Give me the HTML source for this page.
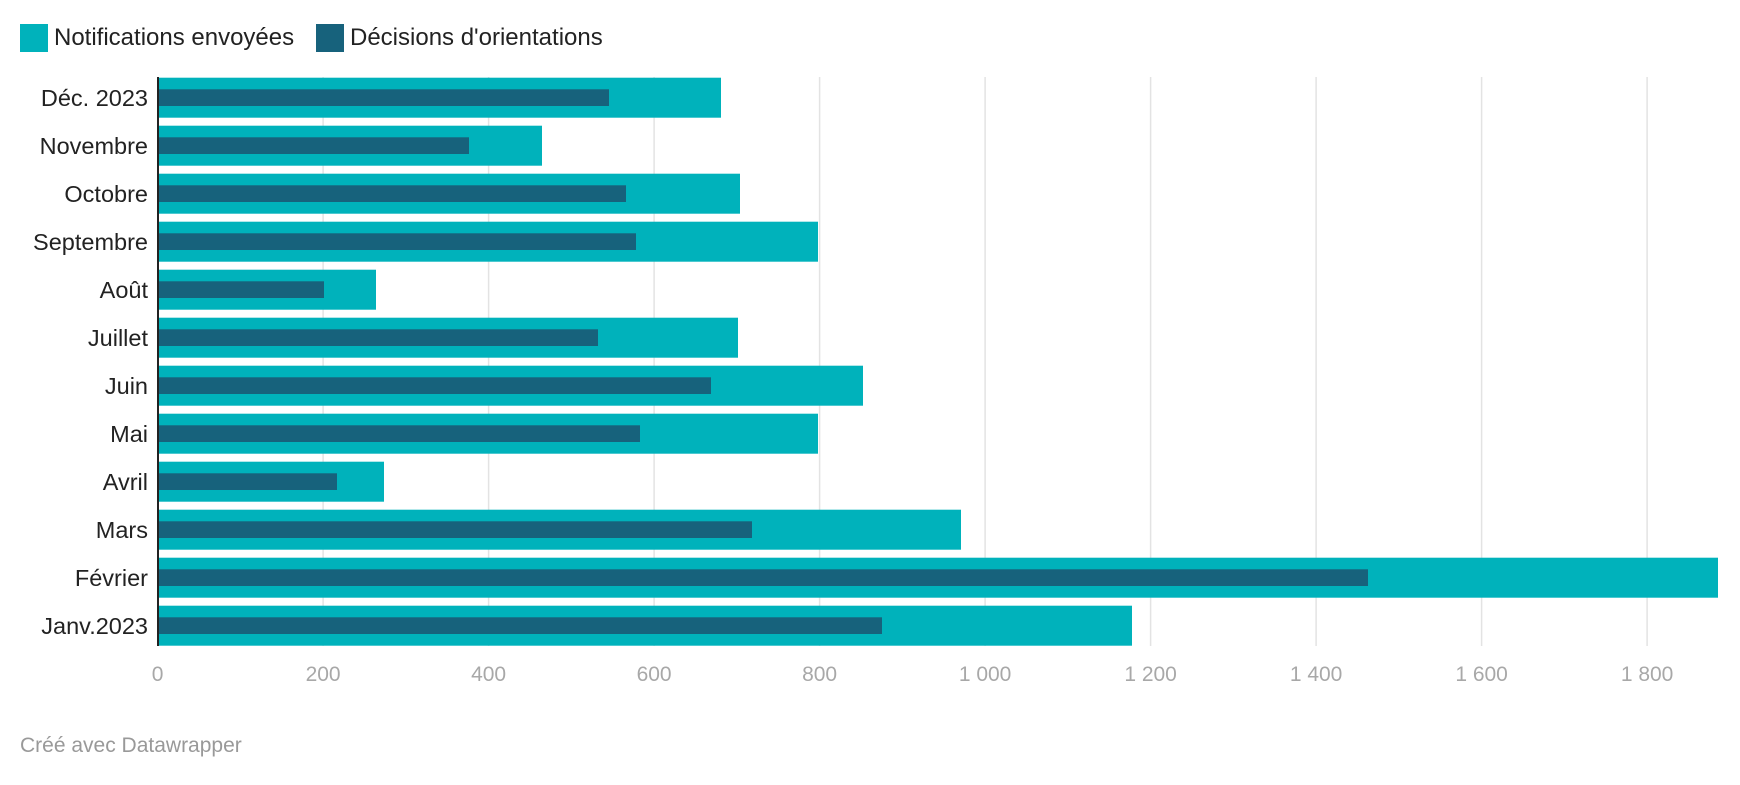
<!DOCTYPE html>
<html><head><meta charset="utf-8"><style>
body{margin:0;background:#fff;width:1740px;height:780px;overflow:hidden;font-family:"Liberation Sans",sans-serif}
</style></head><body>
<svg width="1740" height="780" xmlns="http://www.w3.org/2000/svg" font-family="Liberation Sans, sans-serif">
<rect x="20" y="24" width="28" height="28" fill="#00b2bb"/>
<text x="54" y="45" font-size="24" fill="#222">Notifications envoyées</text>
<rect x="316" y="24" width="28" height="28" fill="#17627c"/>
<text x="350" y="45" font-size="24" fill="#222">Décisions d'orientations</text>
<g stroke="#e3e3e3" stroke-width="1.5">
<line x1="323.1" y1="77" x2="323.1" y2="646"/><line x1="488.6" y1="77" x2="488.6" y2="646"/>
<line x1="654.1" y1="77" x2="654.1" y2="646"/><line x1="819.6" y1="77" x2="819.6" y2="646"/>
<line x1="985.1" y1="77" x2="985.1" y2="646"/><line x1="1150.6" y1="77" x2="1150.6" y2="646"/>
<line x1="1316.1" y1="77" x2="1316.1" y2="646"/><line x1="1481.6" y1="77" x2="1481.6" y2="646"/>
<line x1="1647.1" y1="77" x2="1647.1" y2="646"/>
</g>
<g fill="#00b2bb">
<rect x="158" y="77.7" width="563" height="40"/>
<rect x="158" y="125.7" width="384" height="40"/>
<rect x="158" y="173.7" width="582" height="40"/>
<rect x="158" y="221.7" width="660" height="40"/>
<rect x="158" y="269.7" width="218" height="40"/>
<rect x="158" y="317.7" width="580" height="40"/>
<rect x="158" y="365.7" width="705" height="40"/>
<rect x="158" y="413.7" width="660" height="40"/>
<rect x="158" y="461.7" width="226" height="40"/>
<rect x="158" y="509.7" width="803" height="40"/>
<rect x="158" y="557.7" width="1560" height="40"/>
<rect x="158" y="605.7" width="974" height="40"/>
</g>
<g fill="#17627c">
<rect x="158" y="89.3" width="451" height="16.7"/>
<rect x="158" y="137.3" width="311" height="16.7"/>
<rect x="158" y="185.3" width="468" height="16.7"/>
<rect x="158" y="233.3" width="478" height="16.7"/>
<rect x="158" y="281.3" width="166" height="16.7"/>
<rect x="158" y="329.3" width="440" height="16.7"/>
<rect x="158" y="377.3" width="553" height="16.7"/>
<rect x="158" y="425.3" width="482" height="16.7"/>
<rect x="158" y="473.3" width="179" height="16.7"/>
<rect x="158" y="521.3" width="594" height="16.7"/>
<rect x="158" y="569.3" width="1210" height="16.7"/>
<rect x="158" y="617.3" width="724" height="16.7"/>
</g>
<line x1="158" y1="77" x2="158" y2="646" stroke="#222" stroke-width="2"/>
<g font-size="23.5" fill="#222" text-anchor="end">
<text x="148" y="106">Déc. 2023</text>
<text x="148" y="154">Novembre</text>
<text x="148" y="202">Octobre</text>
<text x="148" y="250">Septembre</text>
<text x="148" y="298">Août</text>
<text x="148" y="346">Juillet</text>
<text x="148" y="394">Juin</text>
<text x="148" y="442">Mai</text>
<text x="148" y="490">Avril</text>
<text x="148" y="538">Mars</text>
<text x="148" y="586">Février</text>
<text x="148" y="634">Janv.2023</text>
</g>
<g font-size="21" fill="#a8a8a8" text-anchor="middle">
<text x="157.6" y="681">0</text><text x="323.1" y="681">200</text><text x="488.6" y="681">400</text>
<text x="654.1" y="681">600</text><text x="819.6" y="681">800</text><text x="985.1" y="681">1 000</text>
<text x="1150.6" y="681">1 200</text><text x="1316.1" y="681">1 400</text><text x="1481.6" y="681">1 600</text>
<text x="1647.1" y="681">1 800</text>
</g>
<text x="20" y="752" font-size="21" fill="#999">Créé avec Datawrapper</text>
</svg>
</body></html>
